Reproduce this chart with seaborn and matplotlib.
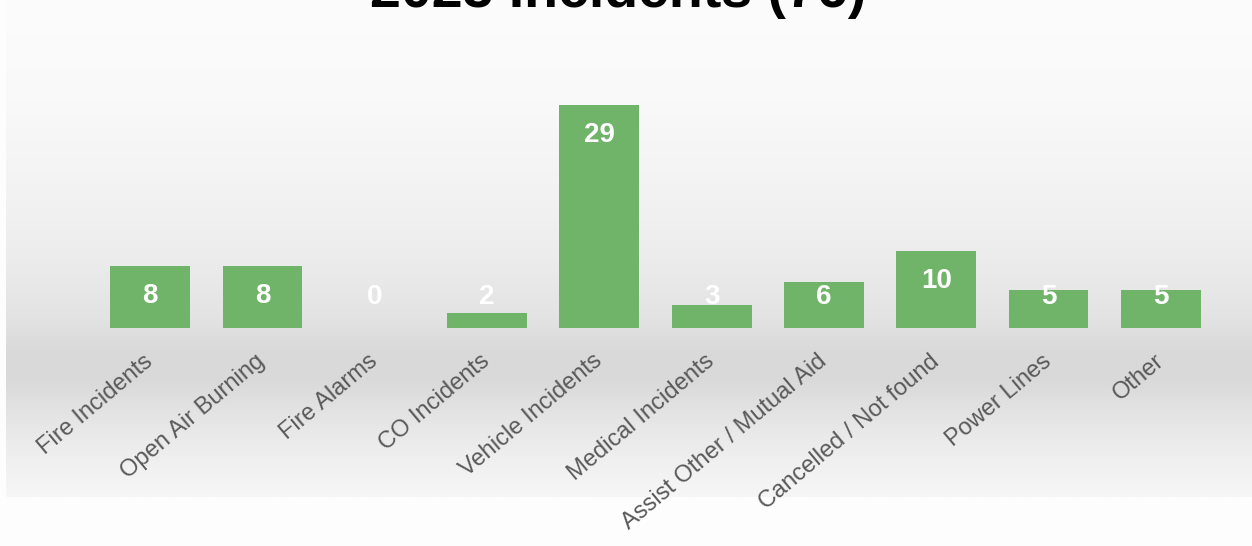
import numpy as np
import pandas as pd
import seaborn as sns
import matplotlib.pyplot as plt
from matplotlib.colors import LinearSegmentedColormap

categories = ["Fire Incidents", "Open Air Burning", "Fire Alarms", "CO Incidents",
              "Vehicle Incidents", "Medical Incidents", "Assist Other / Mutual Aid",
              "Cancelled / Not found", "Power Lines", "Other"]
counts = [8, 8, 0, 2, 29, 3, 6, 10, 5, 5]
title = "2023 Incidents (76)"

df = pd.DataFrame({"category": categories, "count": counts})

sns.set_theme(style="white")
plt.rcParams['font.family'] = ['Liberation Sans', 'DejaVu Sans']

W, H = 1252, 546
fig = plt.figure(figsize=(W / 100, H / 100), dpi=100)
fig.patch.set_facecolor("#fdfdfd")

# grey band behind the chart (light at top, darkest around the baseline)
bg = fig.add_axes([6 / W, 49 / H, 1 - 6 / W, 1 - 49 / H], zorder=-1)
stops = [(0.0, "#fcfcfc"), (0.2, "#f9f9f9"), (0.4, "#f2f2f2"), (0.52, "#ececec"),
         (0.64, "#e3e3e3"), (0.71, "#d9d9d9"), (0.77, "#dadada"), (0.85, "#e6e6e6"),
         (0.93, "#f0f0f0"), (1.0, "#f6f6f6")]
cmap = LinearSegmentedColormap.from_list("band", stops)
bg.imshow(np.linspace(0, 1, 256).reshape(-1, 1), aspect="auto", cmap=cmap,
          extent=[0, 1, 0, 1])
bg.set_axis_off()

ax = fig.add_axes([94 / W, 218 / H, 1123 / W, 231 / H])
ax.patch.set_alpha(0)
sns.barplot(data=df, x="category", y="count", color="#6fb468", width=0.71,
            saturation=1, linewidth=0, ax=ax)
ax.set_ylim(0, 30)
ax.set_xlim(-0.5, len(categories) - 0.5)

for i, v in enumerate(counts):
    ax.text(i, max(v - 3.9, 4.0), str(v), ha="center", va="center",
            color="white", fontsize=20, fontweight="bold")

ax.set_xlabel("")
ax.set_ylabel("")
ax.set_yticks([])
ax.tick_params(axis="x", length=0, pad=22)
plt.setp(ax.get_xticklabels(), rotation=40, ha="right", va="center",
         rotation_mode="anchor", color="#595959", fontsize=17)
for s in ax.spines.values():
    s.set_visible(False)

fig.text(618 / W, 1 - 7 / H, title, ha="center", va="baseline",
         fontsize=40, fontweight="bold", color="black")

fig.savefig("out.png", dpi=100)
